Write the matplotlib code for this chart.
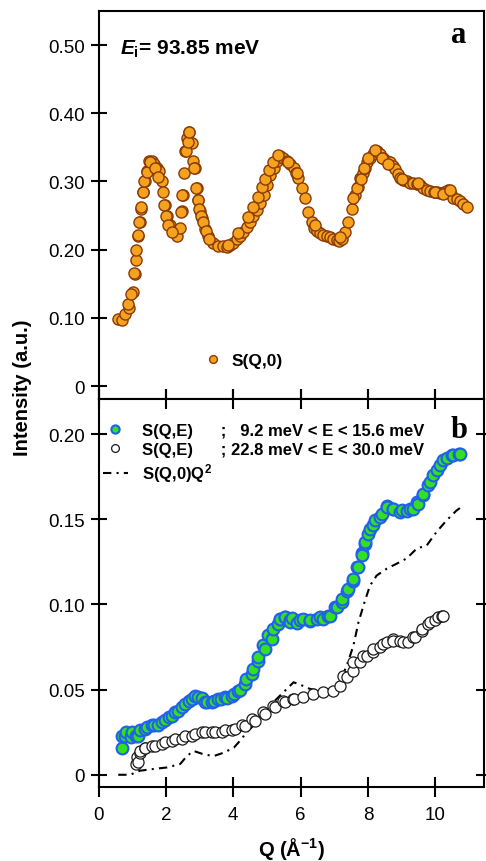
import numpy as np
import matplotlib
matplotlib.use("Agg")
import matplotlib.pyplot as plt

plt.rcParams['font.family'] = ['Liberation Sans', 'DejaVu Sans']
plt.rcParams['mathtext.fontset'] = 'custom'
plt.rcParams['mathtext.rm'] = 'Liberation Sans:bold'
plt.rcParams['mathtext.it'] = 'Liberation Sans:italic:bold'
plt.rcParams['mathtext.bf'] = 'Liberation Sans:bold'

# panel a : S(Q,0)  (two passes of readings)
qa = [0.58, 0.68, 0.78, 0.9, 1.03, 1.08, 1.12, 1.17, 1.22, 1.27, 1.32, 1.38, 1.44, 1.5,
      1.57, 1.64, 1.72, 1.8, 1.87, 1.92, 1.97, 2.02, 2.12, 2.22, 2.32, 2.42, 2.47, 2.5,
      2.52, 2.57, 2.62, 2.68, 2.76, 2.81, 2.86, 2.91, 2.96, 3.01, 3.06, 3.16, 3.26, 3.41,
      3.55, 3.7, 3.8, 3.9, 4.0, 4.1, 4.2, 4.3, 4.4, 4.5, 4.6, 4.7, 4.8, 4.9, 5.0, 5.1,
      5.2, 5.3, 5.39, 5.49, 5.59, 5.69, 5.79, 5.86, 5.93, 6.03, 6.13, 6.23, 6.33, 6.4,
      6.48, 6.58, 6.68, 6.78, 6.87, 6.97, 7.07, 7.15, 7.22, 7.32, 7.42, 7.52, 7.62, 7.7,
      7.77, 7.84, 7.91, 7.98, 8.06, 8.16, 8.26, 8.36, 8.46, 8.56, 8.66, 8.74, 8.81, 8.88,
      8.96, 9.05, 9.15, 9.25, 9.35, 9.45, 9.55, 9.65, 9.75, 9.85, 9.95, 10.05, 10.15,
      10.27, 10.39, 10.47, 10.54, 10.64, 10.74, 10.84, 10.94,
      0.88, 0.96, 1.06, 1.1, 1.16, 1.21, 1.26, 1.31, 1.36, 1.43, 1.53, 1.67, 1.77, 1.94,
      1.99, 2.07, 2.19, 2.45, 2.49, 2.59, 2.65, 2.69, 2.84, 2.89, 2.94, 2.98, 3.04, 3.11,
      3.19, 3.28, 3.85, 4.15, 4.45, 4.59, 4.74, 4.84, 4.94, 5.06, 5.19, 5.34, 5.63, 5.88,
      6.43, 7.17, 7.57, 7.69, 7.79, 7.88, 8.01, 8.21, 8.41, 8.61, 9.0, 9.5, 9.99, 10.24,
      10.44]
sa = [0.098, 0.097, 0.106, 0.115, 0.138, 0.165, 0.185, 0.22, 0.24, 0.26, 0.285, 0.30, 0.315, 0.33,
      0.33, 0.325, 0.32, 0.315, 0.30, 0.285, 0.265, 0.25, 0.236, 0.227, 0.22, 0.232, 0.256, 0.28,
      0.312, 0.344, 0.363, 0.373, 0.356, 0.33, 0.32, 0.29, 0.273, 0.256, 0.246, 0.23, 0.22, 0.21,
      0.205, 0.205, 0.204, 0.207, 0.21, 0.216, 0.22, 0.226, 0.233, 0.24, 0.249, 0.258, 0.268, 0.28, 0.295, 0.31,
      0.32, 0.33, 0.337, 0.334, 0.33, 0.325, 0.32, 0.313, 0.305, 0.29, 0.275, 0.255, 0.24, 0.232,
      0.228, 0.224, 0.221, 0.22, 0.219, 0.216, 0.214, 0.213, 0.216, 0.226, 0.24, 0.26, 0.28, 0.292,
      0.305, 0.313, 0.32, 0.328, 0.335, 0.34, 0.344, 0.34, 0.335, 0.33, 0.328, 0.323, 0.318, 0.311,
      0.305, 0.302, 0.30, 0.298, 0.297, 0.296, 0.295, 0.291, 0.288, 0.286, 0.285, 0.284, 0.283,
      0.285, 0.288, 0.282, 0.276, 0.274, 0.271, 0.267, 0.263,
      0.12, 0.135, 0.166, 0.20, 0.221, 0.24, 0.263, 0.285, 0.30, 0.314, 0.329, 0.319, 0.307, 0.265,
      0.25, 0.236, 0.226, 0.255, 0.28, 0.344, 0.358, 0.372, 0.319, 0.29, 0.273, 0.26, 0.25, 0.24,
      0.228, 0.216, 0.207, 0.224, 0.248, 0.263, 0.277, 0.292, 0.304, 0.317, 0.329, 0.339, 0.328, 0.312,
      0.236, 0.219, 0.275, 0.29, 0.304, 0.319, 0.334, 0.346, 0.334, 0.326, 0.304, 0.297, 0.285, 0.282,
      0.287]

# panel b : S(Q,E) 9.2-15.6 meV
qg = [0.68, 0.70, 0.78, 0.80, 0.95, 0.98, 1.1, 1.18, 1.24, 1.38, 1.44, 1.57, 1.64, 1.77,
      1.88, 1.97, 2.08, 2.17, 2.28, 2.37, 2.48, 2.56, 2.67, 2.76, 2.87, 2.96, 3.07, 3.16,
      3.22, 3.36, 3.42, 3.55, 3.62, 3.75, 3.82, 3.95, 4.02, 4.15, 4.2, 4.35, 4.37, 4.55,
      4.6, 4.74, 4.74, 4.89, 4.94, 5.04, 5.14, 5.19, 5.34, 5.39, 5.39, 5.54, 5.54, 5.69,
      5.69, 5.73, 5.88, 5.98, 6.08, 6.28, 6.28, 6.48, 6.58, 6.68, 6.82, 6.88, 7.02, 7.07,
      7.22, 7.22, 7.37, 7.42, 7.57, 7.57, 7.69, 7.72, 7.82, 7.82, 7.91, 7.92, 8.01, 8.06,
      8.16, 8.21, 8.36, 8.41, 8.56, 8.56, 8.76, 8.76, 8.96, 9.0, 9.15, 9.25, 9.35, 9.45,
      9.5, 9.65, 9.65, 9.8, 9.85, 9.94, 10.04, 10.14, 10.24, 10.34, 10.49, 10.54, 10.72, 10.74]
sg = [0.016, 0.023, 0.023, 0.025, 0.022, 0.025, 0.023, 0.023, 0.026, 0.027, 0.028, 0.029, 0.029, 0.029,
      0.031, 0.032, 0.034, 0.0347, 0.037, 0.0376, 0.040, 0.0416, 0.0435, 0.0445, 0.0465, 0.0455, 0.045, 0.0426,
      0.0426, 0.0426, 0.0435, 0.0445, 0.0445, 0.0455, 0.045, 0.0465, 0.0475, 0.0494, 0.050, 0.0534, 0.056, 0.059,
      0.062, 0.067, 0.069, 0.076, 0.074, 0.082, 0.080, 0.0857, 0.0886, 0.0916, 0.0916, 0.0925, 0.0926, 0.0906,
      0.0897, 0.092, 0.089, 0.0906, 0.0916, 0.090, 0.0906, 0.0916, 0.0926, 0.0916, 0.0935, 0.0935, 0.0985, 0.0985,
      0.1014, 0.1034, 0.108, 0.109, 0.114, 0.115, 0.122, 0.122, 0.130, 0.1288, 0.1357, 0.1367, 0.1416, 0.1445,
      0.1465, 0.1494, 0.1514, 0.1533, 0.158, 0.1573, 0.156, 0.1563, 0.154, 0.1553, 0.155, 0.1563, 0.156, 0.160,
      0.159, 0.164, 0.165, 0.170, 0.172, 0.176, 0.179, 0.182, 0.1847, 0.1857, 0.1876, 0.1876, 0.1886, 0.1886]

# panel b : S(Q,E) 22.8-30.0 meV
qo = [1.1, 1.15, 1.18, 1.23, 1.24, 1.38, 1.39, 1.59, 1.67, 1.88, 1.97, 2.18, 2.27, 2.48,
      2.56, 2.78, 2.86, 3.07, 3.16, 3.37, 3.45, 3.67, 3.75, 3.97, 4.05, 4.27, 4.35, 4.57,
      4.65, 4.89, 4.94, 5.19, 5.24, 5.49, 5.54, 5.78, 5.79, 6.08, 6.38, 6.68, 6.97, 7.17,
      7.27, 7.37, 7.57, 7.57, 7.77, 7.86, 7.96, 8.16, 8.16, 8.36, 8.46, 8.56, 8.76, 8.76,
      8.96, 9.05, 9.2, 9.35, 9.4, 9.6, 9.6, 9.8, 9.85, 9.99, 10.09, 10.19, 10.24]
so = [0.0063, 0.0102, 0.0073, 0.013, 0.0141, 0.016, 0.016, 0.017, 0.017, 0.018, 0.019, 0.020, 0.021, 0.021,
      0.0226, 0.023, 0.024, 0.025, 0.025, 0.025, 0.025, 0.025, 0.026, 0.026, 0.0269, 0.029, 0.0288, 0.0328,
      0.0318, 0.0367, 0.0357, 0.0406, 0.0396, 0.0435, 0.0426, 0.0445, 0.0445, 0.0455, 0.0475, 0.0485, 0.0494, 0.0524,
      0.0582, 0.0573, 0.0612, 0.066, 0.066, 0.070, 0.070, 0.072, 0.074, 0.075, 0.0769, 0.0779, 0.0798, 0.0788,
      0.0788, 0.0779, 0.0779, 0.0808, 0.0808, 0.0847, 0.0857, 0.0886, 0.0896, 0.0906, 0.0926, 0.093, 0.0935]

# panel b : S(Q,0)Q^2
ql = [0.58, 0.93, 1.23, 1.63, 2.03, 2.42, 2.62, 2.82, 3.12, 3.42, 3.72, 4.02, 4.2, 4.4,
      4.8, 5.19, 5.59, 5.79, 5.98, 6.28, 6.7, 7.1, 7.37, 7.57, 7.72, 7.9, 8.06, 8.26,
      8.56, 8.86, 9.15, 9.45, 9.75, 10.04, 10.34, 10.64, 10.84]
sl = [0.0, 0.0, 0.0024, 0.0034, 0.0043, 0.0063, 0.011, 0.014, 0.012, 0.011, 0.013, 0.016, 0.020, 0.025,
      0.0328, 0.0426, 0.0504, 0.0543, 0.053, 0.0504, 0.049, 0.052, 0.064, 0.0759, 0.0896, 0.1014, 0.111, 0.117,
      0.121, 0.124, 0.127, 0.1328, 0.1347, 0.1426, 0.1494, 0.1553, 0.158]

fig = plt.figure(figsize=(4.86, 8.62), dpi=100)
ax1 = fig.add_axes([0.2031, 0.536, 0.7928, 0.4501])
ax2 = fig.add_axes([0.2031, 0.0858, 0.7928, 0.4501])

fs = 13.5
for ax in (ax1, ax2):
    for s in ax.spines.values():
        s.set_linewidth(1.5)
    ax.set_xlim(0, 11.45)
    ax.set_xticks([0, 2, 4, 6, 8, 10])

# --- panel a
ax1.plot(qa, sa, 'o', ms=8, mfc='#F5A31E', mec='#8A3A05', mew=1.0, label='S(Q,0)')
ax1.set_ylim(-0.019, 0.55)
ax1.set_yticks([0, 0.1, 0.2, 0.3, 0.4, 0.5])
ax1.set_yticklabels(['0', '0.10', '0.20', '0.30', '0.40', '0.50'], fontsize=fs)
ax1.tick_params(axis='y', direction='inout', length=12, width=1.5, pad=4, right=False)
ax1.tick_params(axis='x', direction='in', length=7, width=1.5, labelbottom=False)
ax1.text(0.055, 0.932, r'$E_\mathrm{i}$= 93.85 meV', transform=ax1.transAxes,
         fontsize=15, fontweight='bold', va='top', ha='left')
ax1.text(0.935, 0.92, 'a', transform=ax1.transAxes, fontsize=22, fontweight='bold',
         family='Liberation Serif', va='baseline', ha='center')
ax1.legend(loc='center left', bbox_to_anchor=(0.273, 0.10), frameon=False,
           prop={'weight': 'bold', 'size': 12.5}, handlelength=1.0, handletextpad=0.6,
           markerscale=0.7, borderpad=0, borderaxespad=0, numpoints=1)

# --- panel b
ax2.plot(ql, sl, color='black', lw=1.5, dashes=[4, 2.5, 1, 2.5], label=r'S(Q,0)Q$^2$', zorder=2)
ax2.plot(qo, so, 'o', ms=8, mfc='white', mec='#1a1a1a', mew=0.9,
         label='S(Q,E)      ; 22.8 meV < E < 30.0 meV', zorder=3)
ax2.plot(qg, sg, 'o', ms=8.5, mfc='#33E020', mec='#2060F0', mew=1.5,
         label='S(Q,E)      ;   9.2 meV < E < 15.6 meV', zorder=4)
ax2.set_ylim(-0.0072, 0.2206)
ax2.set_yticks([0, 0.05, 0.1, 0.15, 0.2])
ax2.set_yticklabels(['0', '0.05', '0.10', '0.15', '0.20'], fontsize=fs)
ax2.set_xticklabels(['0', '2', '4', '6', '8', '10'], fontsize=fs)
ax2.tick_params(axis='y', direction='inout', length=12, width=1.5, pad=4)
ax2.tick_params(axis='y', which='both', right=True)
ax2.tick_params(axis='x', direction='inout', length=15, width=1.5, pad=6, top=True)
ax2.set_xlabel(r'Q (Å$^{-1}$)', fontsize=14.5, fontweight='bold', labelpad=9)
ax2.text(0.935, 0.902, 'b', transform=ax2.transAxes, fontsize=22, fontweight='bold',
         family='Liberation Serif', va='baseline', ha='center')
h, l = ax2.get_legend_handles_labels()
ax2.legend([h[2], h[1], h[0]], [l[2], l[1], l[0]], loc='center left', bbox_to_anchor=(0.011, 0.860),
           frameon=False, prop={'weight': 'bold', 'size': 12}, handlelength=1.5,
           handletextpad=0.85, markerscale=0.7, labelspacing=0.25, borderpad=0,
           borderaxespad=0, numpoints=1)

fig.text(22 / 486, 1 - 388 / 862, 'Intensity (a.u.)', rotation=90, fontsize=14.5,
         fontweight='bold', ha='center', va='center')

fig.savefig('out.png', dpi=100)
